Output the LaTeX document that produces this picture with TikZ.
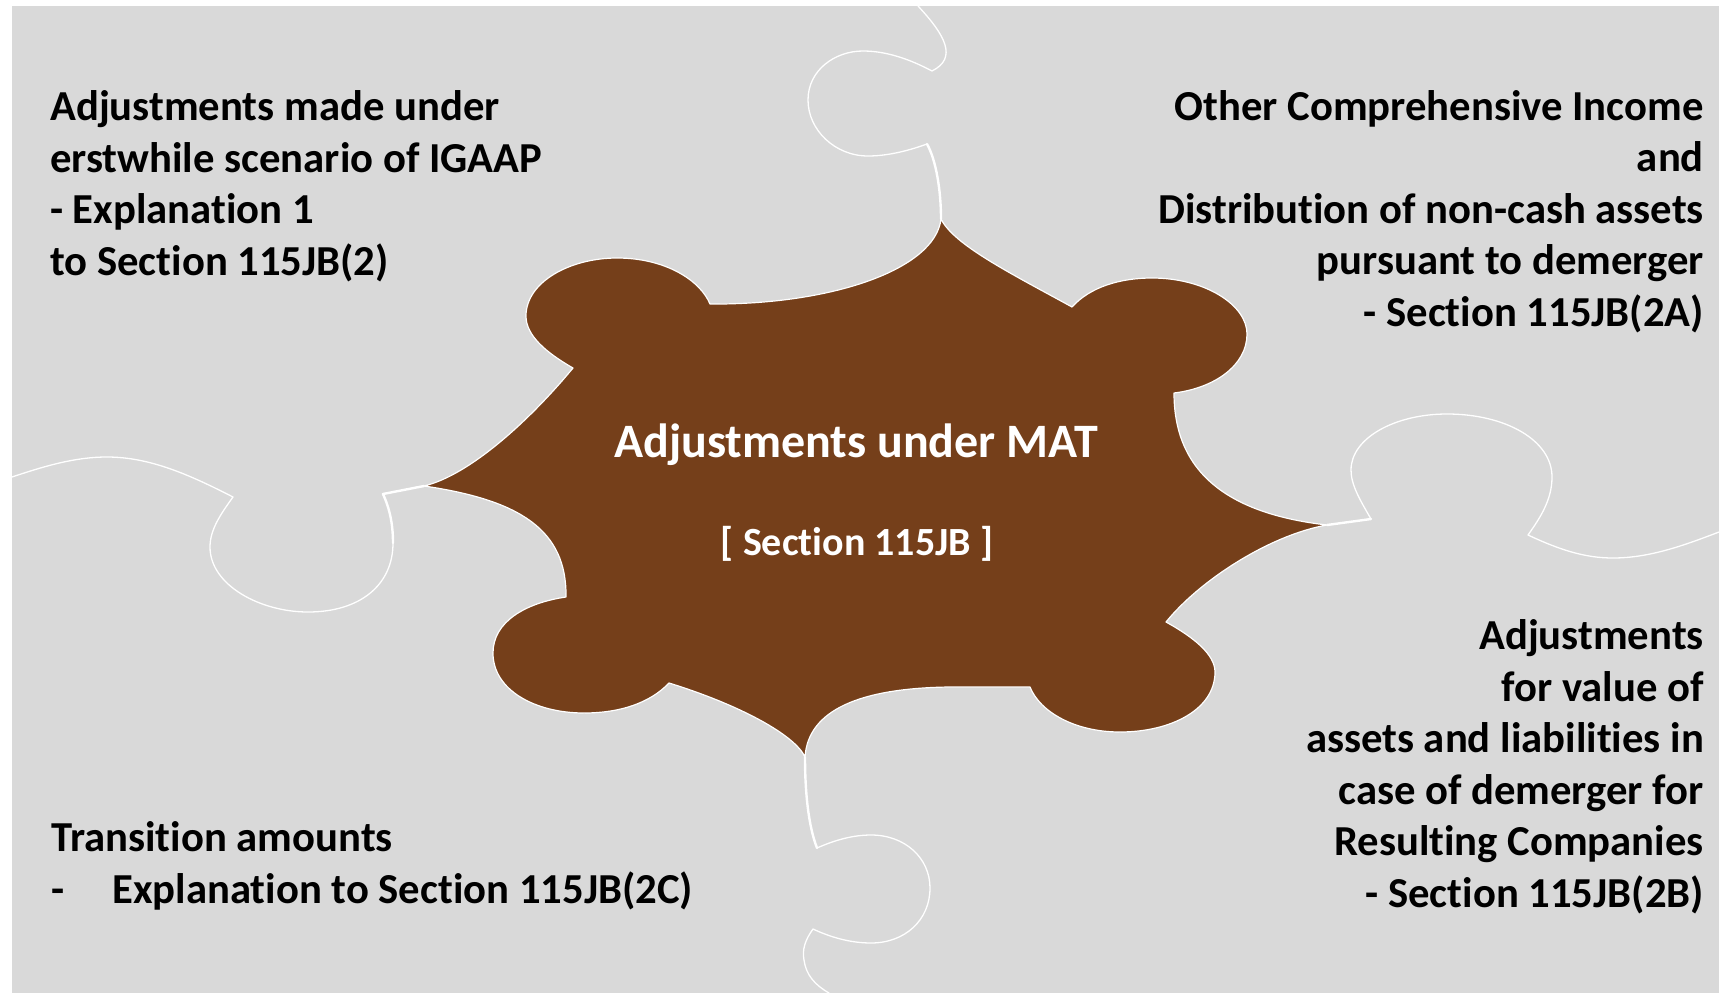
\documentclass[tikz,border=0pt]{standalone}
\usepackage{fontspec}
\setmainfont{Carlito}[Ligatures=NoCommon]
\definecolor{bgrey}{RGB}{217,217,217}
\definecolor{pbrown}{RGB}{117,63,26}
\tikzset{
  lbl/.style={inner sep=0pt, text=black, font={\fontsize{42.7}{51.5}\selectfont\bfseries}},
  ctitle/.style={inner sep=0pt, text=white, font={\fontsize{48}{56}\selectfont\bfseries}},
  csub/.style={inner sep=0pt, text=white, font={\fontsize{40}{48}\selectfont\bfseries}},
  seam/.style={draw=white, line width=1.3pt, line join=round, line cap=round},
  stem/.style={draw=white, line width=2.4pt, line join=round, line cap=round},
  piece/.style={fill=pbrown, draw=white, line width=1.2pt, line join=round}
}
\begin{document}
\begin{tikzpicture}[x=1pt, y=-1pt]
\path[use as bounding box, fill=white] (0,0) rectangle (1719,993);
\fill[bgrey] (12,6) rectangle (1719,993);

% central brown piece
\path[piece] (941,219)
  .. controls (954,245) and (1010,273) .. (1072,307)
  .. controls (1090,287) and (1120,278) .. (1152,278)
  .. controls (1205,278) and (1247,305) .. (1247,334)
  .. controls (1247,365) and (1215,388) .. (1174,393)
  .. controls (1174,468) and (1222,513) .. (1327,525)
  .. controls (1270,535) and (1200,580) .. (1166,622)
  .. controls (1195,638) and (1215,655) .. (1215,672)
  .. controls (1215,710) and (1170,732) .. (1120,732)
  .. controls (1075,732) and (1040,712) .. (1030,687)
  -- (950,687)
  .. controls (860,688) and (808,710) .. (805,757)
  .. controls (795,735) and (740,705) .. (669,683)
  .. controls (650,703) and (620,713) .. (584,713)
  .. controls (535,713) and (493,690) .. (493,653)
  .. controls (493,622) and (525,603) .. (566,597)
  .. controls (567,530) and (520,500) .. (424,486)
  .. controls (470,475) and (530,420) .. (573,368)
  .. controls (545,352) and (526,335) .. (526,316)
  .. controls (526,282) and (570,258) .. (617,258)
  .. controls (665,258) and (700,280) .. (710,304)
  .. controls (830,305) and (935,270) .. cycle;

% top seam
\path[stem] (941,219) .. controls (941,190) and (936,160) .. (927,144);
\path[seam] (927,144)
  .. controls (905,152) and (885,156) .. (868,156)
  .. controls (835,156) and (808,130) .. (808,100)
  .. controls (808,70) and (835,51) .. (863,51)
  .. controls (890,51) and (915,62) .. (932,71)
  .. controls (958,58) and (945,35) .. (918,6);

% left seam
\path[seam] (12,477)
  .. controls (45,466) and (75,457) .. (107,457)
  .. controls (150,457) and (190,475) .. (233,497)
  .. controls (220,515) and (210,530) .. (210,547)
  .. controls (210,585) and (260,612) .. (308,612)
  .. controls (360,612) and (393,585) .. (393,543);
\path[stem] (393,543) .. controls (393,520) and (388,505) .. (383,494) -- (424,486);

% right seam
\path[stem] (1327,525) -- (1371,519);
\path[seam] (1371,519)
  .. controls (1360,500) and (1351,485) .. (1351,470)
  .. controls (1351,438) and (1395,414) .. (1447,414)
  .. controls (1505,414) and (1552,440) .. (1552,477)
  .. controls (1552,500) and (1540,518) .. (1528,535)
  .. controls (1560,550) and (1585,558) .. (1613,558)
  .. controls (1650,558) and (1685,545) .. (1719,532);

% bottom seam
\path[stem] (805,757) .. controls (805,790) and (808,825) .. (817,848);
\path[seam] (817,848)
  .. controls (835,840) and (853,835) .. (871,835)
  .. controls (905,835) and (930,858) .. (930,888)
  .. controls (930,920) and (905,943) .. (871,943)
  .. controls (850,943) and (830,937) .. (813,929)
  .. controls (805,940) and (802,950) .. (804,960)
  .. controls (806,975) and (815,985) .. (829,993);

% texts (anchor = baseline of the last line)
\node[ctitle, anchor=base] (title) at (856,457) {Adjustments under MAT};
\node[csub, anchor=base] (sub) at (857,555) {[ Section 115JB ]};

\node[lbl, anchor=base west, align=left] (tl) at (50,275)
  {Adjustments made under\\erstwhile scenario of IGAAP\\- Explanation 1\\to Section 115JB(2)};
\node[lbl, anchor=base east, align=right] (tr) at (1704,326)
  {Other Comprehensive Income\\and\\Distribution of non-cash assets\\pursuant to demerger\\- Section 115JB(2A)};
\node[lbl, anchor=base east, align=right] (br) at (1704,907)
  {Adjustments\\for value of\\assets and liabilities in\\case of demerger for\\Resulting Companies\\- Section 115JB(2B)};
\node[lbl, anchor=base west, align=left] (bl) at (51,903)
  {Transition amounts\\\makebox[61pt][l]{-}Explanation to Section 115JB(2C)};
\end{tikzpicture}
\end{document}
